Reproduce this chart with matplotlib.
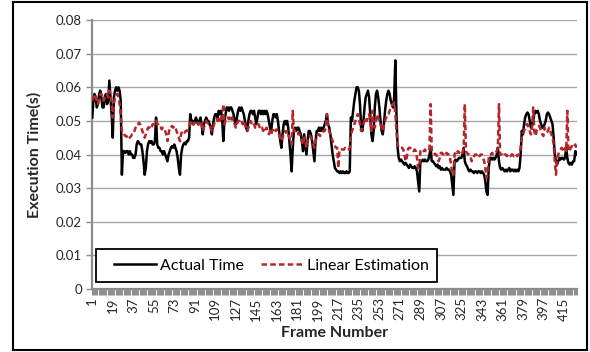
import matplotlib
matplotlib.use('Agg')
import matplotlib.pyplot as plt
import numpy as np
from matplotlib.patches import Rectangle
from matplotlib.ticker import FixedLocator, FuncFormatter

plt.rcParams['font.family'] = ['Lato', 'DejaVu Sans']

# execution time per frame (s)
actual_time = [
    0.051, 0.056, 0.058, 0.057, 0.054, 0.055, 0.058, 0.059, 0.057, 0.054,
    0.054, 0.057, 0.058, 0.055, 0.056, 0.062, 0.057, 0.052, 0.045, 0.057,
    0.059, 0.060, 0.059, 0.060, 0.059, 0.056, 0.034, 0.041, 0.041, 0.0405,
    0.041, 0.041, 0.040, 0.041, 0.040, 0.040, 0.039, 0.039, 0.040, 0.043,
    0.044, 0.0435, 0.043, 0.043, 0.041, 0.038, 0.034, 0.036, 0.041, 0.043,
    0.044, 0.0435, 0.044, 0.043, 0.043, 0.044, 0.051, 0.043, 0.042, 0.042,
    0.041, 0.041, 0.040, 0.041, 0.040, 0.039, 0.038, 0.040, 0.041, 0.042,
    0.0425, 0.042, 0.043, 0.042, 0.041, 0.039, 0.036, 0.034, 0.040, 0.042,
    0.043, 0.0435, 0.043, 0.044, 0.044, 0.045, 0.052, 0.050, 0.050, 0.049,
    0.050, 0.051, 0.050, 0.049, 0.050, 0.051, 0.049, 0.046, 0.049, 0.050,
    0.051, 0.050, 0.050, 0.049, 0.048, 0.046, 0.049, 0.051, 0.052, 0.052,
    0.051, 0.053, 0.052, 0.053, 0.051, 0.044, 0.050, 0.052, 0.054, 0.054,
    0.053, 0.054, 0.054, 0.053, 0.052, 0.050, 0.049, 0.051, 0.053, 0.054,
    0.053, 0.054, 0.053, 0.052, 0.050, 0.048, 0.047, 0.050, 0.052, 0.053,
    0.053, 0.052, 0.053, 0.051, 0.049, 0.051, 0.053, 0.053, 0.052, 0.053,
    0.052, 0.053, 0.052, 0.053, 0.052, 0.050, 0.048, 0.047, 0.050, 0.052,
    0.052, 0.051, 0.052, 0.050, 0.047, 0.044, 0.042, 0.046, 0.049, 0.050,
    0.049, 0.050, 0.048, 0.044, 0.040, 0.035, 0.042, 0.047, 0.048, 0.047,
    0.048, 0.048, 0.047, 0.046, 0.044, 0.041, 0.046, 0.043, 0.040, 0.044,
    0.047, 0.047, 0.046, 0.044, 0.041, 0.038, 0.044, 0.047, 0.047, 0.048,
    0.047, 0.048, 0.047, 0.048, 0.049, 0.050, 0.052, 0.049, 0.048, 0.046,
    0.043, 0.040, 0.038, 0.036, 0.0355, 0.035, 0.035, 0.0345, 0.035, 0.0345,
    0.035, 0.0345, 0.0345, 0.035, 0.0345, 0.0345, 0.035, 0.051, 0.050, 0.053,
    0.056, 0.058, 0.060, 0.060, 0.059, 0.055, 0.048, 0.047, 0.050, 0.054,
    0.057, 0.058, 0.059, 0.057, 0.052, 0.046, 0.044, 0.047, 0.054, 0.058,
    0.059, 0.057, 0.054, 0.050, 0.047, 0.046, 0.049, 0.053, 0.056, 0.058,
    0.059, 0.058, 0.056, 0.055, 0.054, 0.057, 0.068, 0.052, 0.042, 0.039,
    0.038, 0.0385, 0.038, 0.0375, 0.037, 0.0375, 0.037, 0.0365, 0.036, 0.037,
    0.0365, 0.036, 0.036, 0.0365, 0.036, 0.035, 0.032, 0.029, 0.038, 0.038,
    0.0385, 0.038, 0.0385, 0.038, 0.038, 0.0385, 0.040, 0.042, 0.038, 0.038,
    0.0375, 0.037, 0.0365, 0.037, 0.036, 0.0365, 0.0355, 0.036, 0.0355, 0.0355,
    0.0355, 0.036, 0.0355, 0.0355, 0.035, 0.034, 0.031, 0.028, 0.038, 0.0385,
    0.038, 0.0385, 0.039, 0.039, 0.039, 0.040, 0.042, 0.038, 0.037, 0.0365,
    0.0355, 0.035, 0.0355, 0.035, 0.035, 0.0345, 0.035, 0.035, 0.0345, 0.035,
    0.035, 0.0345, 0.035, 0.0345, 0.034, 0.032, 0.029, 0.028, 0.036, 0.039,
    0.039, 0.0385, 0.039, 0.0385, 0.039, 0.040, 0.042, 0.038, 0.036, 0.0355,
    0.036, 0.0355, 0.035, 0.0355, 0.035, 0.0355, 0.036, 0.035, 0.0355, 0.0355,
    0.035, 0.0355, 0.035, 0.0355, 0.035, 0.036, 0.040, 0.047, 0.046, 0.049,
    0.051, 0.052, 0.0525, 0.052, 0.050, 0.048, 0.049, 0.050, 0.052, 0.053,
    0.0525, 0.053, 0.052, 0.050, 0.049, 0.048, 0.048, 0.049, 0.050, 0.052,
    0.0525, 0.052, 0.051, 0.050, 0.049, 0.045, 0.040, 0.038, 0.037, 0.038,
    0.039, 0.0385, 0.039, 0.039, 0.0385, 0.039, 0.042, 0.039, 0.0375, 0.037,
    0.0375, 0.037, 0.038, 0.038, 0.041, 0.040,
]

linear_estimation = [
    0.056, 0.057, 0.058, 0.057, 0.056, 0.055, 0.057, 0.058, 0.058, 0.057,
    0.056, 0.057, 0.058, 0.058, 0.057, 0.059, 0.058, 0.055, 0.051, 0.055,
    0.057, 0.058, 0.058, 0.057, 0.055, 0.052, 0.047, 0.047, 0.046, 0.0455,
    0.0455, 0.045, 0.0455, 0.045, 0.0455, 0.046, 0.046, 0.047, 0.048, 0.049,
    0.049, 0.0495, 0.049, 0.048, 0.047, 0.046, 0.045, 0.046, 0.047, 0.048,
    0.048, 0.0485, 0.048, 0.049, 0.049, 0.049, 0.050, 0.049, 0.049, 0.048,
    0.048, 0.0475, 0.048, 0.048, 0.047, 0.046, 0.044, 0.046, 0.048, 0.048,
    0.0485, 0.048, 0.0485, 0.048, 0.047, 0.046, 0.045, 0.044, 0.046, 0.047,
    0.047, 0.0465, 0.047, 0.047, 0.0475, 0.048, 0.050, 0.050, 0.049, 0.049,
    0.0495, 0.050, 0.0495, 0.049, 0.049, 0.050, 0.049, 0.047, 0.048, 0.049,
    0.050, 0.0495, 0.049, 0.049, 0.048, 0.047, 0.048, 0.049, 0.050, 0.0505,
    0.050, 0.051, 0.050, 0.051, 0.050, 0.055, 0.049, 0.050, 0.051, 0.051,
    0.0505, 0.051, 0.050, 0.051, 0.050, 0.049, 0.048, 0.049, 0.050, 0.050,
    0.0495, 0.050, 0.049, 0.050, 0.049, 0.048, 0.047, 0.048, 0.049, 0.050,
    0.049, 0.0495, 0.049, 0.048, 0.048, 0.049, 0.049, 0.048, 0.0475, 0.048,
    0.047, 0.048, 0.0475, 0.048, 0.047, 0.046, 0.047, 0.046, 0.047, 0.048,
    0.0475, 0.047, 0.0475, 0.047, 0.046, 0.045, 0.044, 0.045, 0.046, 0.047,
    0.0465, 0.047, 0.046, 0.045, 0.044, 0.043, 0.053, 0.047, 0.047, 0.046,
    0.046, 0.0465, 0.046, 0.045, 0.044, 0.043, 0.045, 0.044, 0.042, 0.044,
    0.045, 0.0455, 0.045, 0.044, 0.043, 0.042, 0.044, 0.045, 0.046, 0.046,
    0.0455, 0.046, 0.0465, 0.047, 0.047, 0.048, 0.052, 0.048, 0.047, 0.046,
    0.045, 0.044, 0.043, 0.0425, 0.042, 0.042, 0.036, 0.0415, 0.0415, 0.0415,
    0.0415, 0.0415, 0.042, 0.0415, 0.0415, 0.0415, 0.042, 0.046, 0.047, 0.048,
    0.049, 0.050, 0.051, 0.052, 0.051, 0.049, 0.047, 0.048, 0.049, 0.050,
    0.051, 0.050, 0.051, 0.052, 0.050, 0.047, 0.053, 0.049, 0.048, 0.050,
    0.052, 0.051, 0.050, 0.049, 0.048, 0.047, 0.049, 0.050, 0.051, 0.052,
    0.052, 0.053, 0.054, 0.0545, 0.055, 0.0555, 0.052, 0.047, 0.043, 0.042,
    0.042, 0.042, 0.042, 0.0415, 0.040, 0.038, 0.039, 0.0415, 0.042, 0.042,
    0.0415, 0.0415, 0.041, 0.0415, 0.041, 0.039, 0.036, 0.036, 0.041, 0.041,
    0.0415, 0.041, 0.0415, 0.041, 0.041, 0.041, 0.042, 0.055, 0.041, 0.0405,
    0.0405, 0.040, 0.040, 0.039, 0.038, 0.039, 0.0405, 0.0405, 0.040, 0.0405,
    0.040, 0.0405, 0.040, 0.040, 0.039, 0.037, 0.034, 0.034, 0.040, 0.041,
    0.0405, 0.041, 0.0405, 0.041, 0.041, 0.0405, 0.042, 0.055, 0.041, 0.0405,
    0.040, 0.040, 0.0395, 0.038, 0.039, 0.0395, 0.040, 0.040, 0.0395, 0.040,
    0.0395, 0.040, 0.040, 0.039, 0.038, 0.036, 0.033, 0.034, 0.039, 0.040,
    0.040, 0.0405, 0.040, 0.040, 0.0405, 0.041, 0.042, 0.055, 0.040, 0.040,
    0.040, 0.0395, 0.040, 0.040, 0.0395, 0.040, 0.040, 0.0395, 0.040, 0.040,
    0.0395, 0.040, 0.040, 0.0395, 0.040, 0.040, 0.042, 0.045, 0.046, 0.047,
    0.048, 0.049, 0.049, 0.048, 0.047, 0.046, 0.048, 0.054, 0.047, 0.0455,
    0.047, 0.048, 0.0485, 0.048, 0.047, 0.046, 0.0455, 0.048, 0.047, 0.0465,
    0.047, 0.048, 0.047, 0.046, 0.045, 0.043, 0.038, 0.034, 0.038, 0.040,
    0.041, 0.0415, 0.042, 0.0415, 0.041, 0.042, 0.041, 0.053, 0.041, 0.041,
    0.042, 0.0425, 0.042, 0.0425, 0.043, 0.042,
]

frames = np.arange(1, len(actual_time) + 1)
tick_frames = list(range(1, len(actual_time) + 1, 18))
y_ticks = [0, 0.01, 0.02, 0.03, 0.04, 0.05, 0.06, 0.07, 0.08]

fig = plt.figure(figsize=(5.9, 3.52), dpi=100)
ax = fig.add_axes([0.1554, 0.179, 0.8226, 0.764])

ax.plot(frames, actual_time, color='black', lw=1.8, label='Actual Time', zorder=3)
ax.plot(frames, linear_estimation, color='#b3262c', lw=1.8, ls=(0, (2.2, 1.3)),
        label='Linear Estimation', zorder=4)

ax.set_xlim(0.5, len(frames) + 0.5)
ax.set_ylim(0, 0.08)
ax.set_yticks(y_ticks)
ax.yaxis.set_major_formatter(FuncFormatter(lambda v, p: '0' if v == 0 else '%.2f' % v))
ax.grid(axis='y', color='#a6a6a6', lw=1.0, zorder=0)
ax.set_axisbelow(True)

ax.set_xticks(tick_frames)
ax.set_xticklabels([str(t) for t in tick_frames], rotation=90)
ax.xaxis.set_minor_locator(FixedLocator(np.arange(0.5, len(frames) + 1, 1)))
ax.tick_params(axis='x', which='major', length=0, pad=6, labelsize=9.5, colors='#262626')
ax.tick_params(axis='x', which='minor', length=4.5, width=0.7, color='#8c8c8c')
ax.tick_params(axis='y', length=4, width=1, color='#8c8c8c', labelsize=9.5, labelcolor='#262626', pad=3)

for s in ['top', 'right']:
    ax.spines[s].set_visible(False)
ax.spines['left'].set_color('#8c8c8c')
ax.spines['left'].set_linewidth(1.6)
ax.spines['bottom'].set_color('#8c8c8c')
ax.spines['bottom'].set_linewidth(1.6)

ax.set_xlabel('Frame Number', fontsize=11.5, fontweight='bold', color='#262626', labelpad=4)
ax.set_ylabel('Execution Time(s)', fontsize=11.5, fontweight='bold', color='#262626', labelpad=10)

# legend box drawn separately so its side padding can be wider than the top/bottom one
ax.add_patch(Rectangle((0.0089, 0.0271), 0.7026, 0.1205, transform=ax.transAxes,
                       facecolor='white', edgecolor='black', lw=1.3, zorder=6))
leg = ax.legend(loc='center left', bbox_to_anchor=(0.046, 0.0874), ncol=2, fontsize=11.5,
                frameon=False, borderaxespad=0, borderpad=0, handlelength=2.6,
                handletextpad=0.28, columnspacing=1.05)
leg.set_zorder(7)

fig.patches.append(Rectangle((13 / 590, 2 / 352), 574 / 590, 348 / 352, transform=fig.transFigure,
                             fill=False, edgecolor='black', lw=1.5))

fig.savefig('out.png', dpi=100)
